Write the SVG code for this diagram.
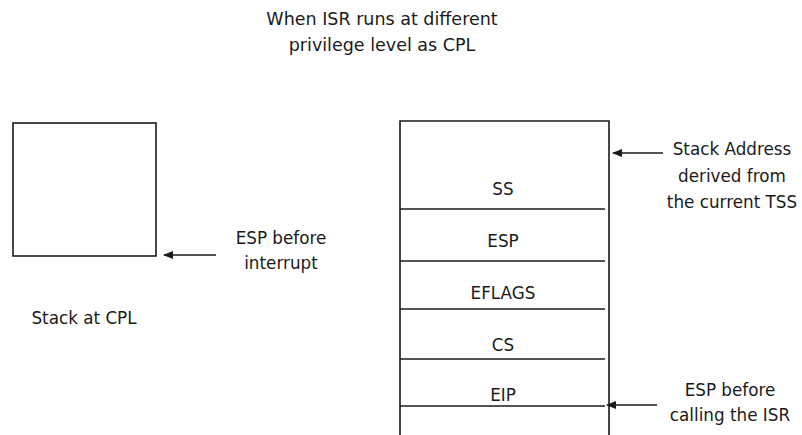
<svg xmlns="http://www.w3.org/2000/svg" width="802" height="435" viewBox="0 0 802 435">
<style>
text{font-family:"DejaVu Sans","Liberation Sans",sans-serif;font-size:16.8px;fill:#1a1a1a;text-anchor:middle}
.title{font-size:17.5px}
.box{fill:#fff;stroke:#1a1a1a;stroke-width:1.6}
.sep{stroke:#1a1a1a;stroke-width:1.4}
.arr{stroke:#1a1a1a;stroke-width:1.6;fill:none;marker-end:url(#ah)}
</style>
<defs>
<marker id="ah" markerWidth="10" markerHeight="8" refX="9" refY="4" orient="auto" markerUnits="userSpaceOnUse">
<path d="M0,0 L10,4 L0,8 Z" fill="#1a1a1a"/>
</marker>
</defs>
<rect width="802" height="435" fill="#fff"/>
<g id="title">
<text class="title" x="382" y="25">When ISR runs at different</text>
<text class="title" x="382" y="51">privilege level as CPL</text>
</g>
<g id="stack-cpl">
<rect class="box" x="13" y="123" width="143" height="133"/>
<text x="84" y="324">Stack at CPL</text>
</g>
<g id="label-esp-before-interrupt">
<text x="281" y="244">ESP before</text>
<text x="281" y="269">interrupt</text>
</g>
<g id="stack-isr">
<path class="box" d="M400,435 V121 H609 V435"/>
<line class="sep" x1="400" y1="209" x2="605" y2="209"/>
<line class="sep" x1="400" y1="261" x2="605" y2="261"/>
<line class="sep" x1="400" y1="309" x2="605" y2="309"/>
<line class="sep" x1="400" y1="359" x2="605" y2="359"/>
<line class="sep" x1="400" y1="406" x2="605" y2="406"/>
<text x="503" y="195">SS</text>
<text x="503" y="247">ESP</text>
<text x="503" y="299">EFLAGS</text>
<text x="503" y="351">CS</text>
<text x="503" y="401">EIP</text>
</g>
<g id="label-stack-address">
<text x="732" y="155">Stack Address</text>
<text x="732" y="182">derived from</text>
<text x="732" y="208">the current TSS</text>
</g>
<g id="label-esp-before-isr">
<text x="730" y="396">ESP before</text>
<text x="730" y="421">calling the ISR</text>
</g>
<g id="connectors">
<line class="arr" x1="216" y1="255" x2="164" y2="255"/>
<line class="arr" x1="663" y1="153" x2="613" y2="153"/>
<line class="arr" x1="657" y1="405" x2="607" y2="405"/>
</g>
</svg>
